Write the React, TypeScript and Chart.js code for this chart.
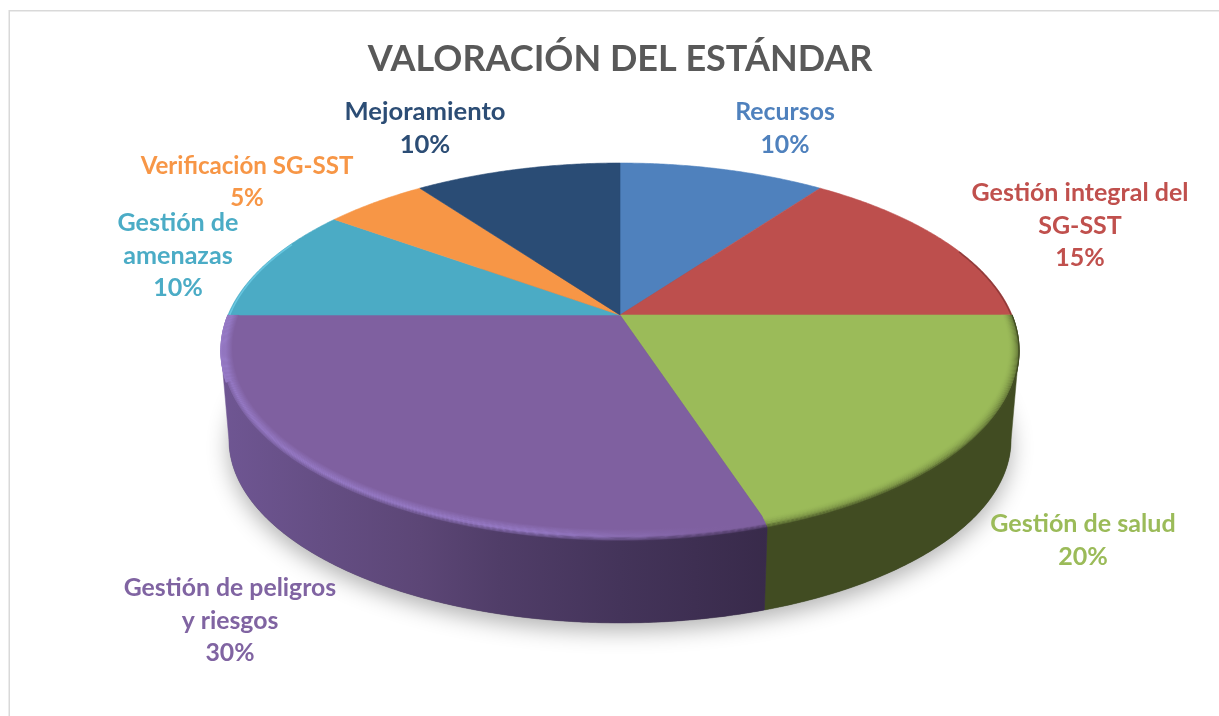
import React, { useEffect, useRef } from "react";
import { Chart, registerables } from "chart.js";

Chart.register(...registerables);

const categories = [
  "Recursos",
  "Gestión integral del SG-SST",
  "Gestión de salud",
  "Gestión de peligros y riesgos",
  "Gestión de amenazas",
  "Verificación SG-SST",
  "Mejoramiento",
];
const values = [10, 15, 20, 30, 10, 5, 10];
const labelLines = [
  ["Recursos"],
  ["Gestión integral del", "SG-SST"],
  ["Gestión de salud"],
  ["Gestión de peligros", "y riesgos"],
  ["Gestión de", "amenazas"],
  ["Verificación SG-SST"],
  ["Mejoramiento"],
];
const sliceColors = ["#4f81bd", "#bd4f4d", "#9bbb59", "#7f60a0", "#4babc5", "#f79646", "#2a4c75"];
const labelColors = ["#4f81bd", "#c0504d", "#9bbb59", "#8064a2", "#4bacc6", "#f79646", "#2c4d75"];
const labelCenters = [
  [785, 112],
  [1080, 193],
  [1083, 524],
  [230, 588],
  [178, 223],
  [247, 166],
  [425, 112],
];
const labelFontSizes = [24.8, 25, 25.1, 24.8, 25.1, 24.1, 25.6];

const FONT = "Lato, 'Open Sans', sans-serif";
const CX = 620, CY = 315, AX = 392, BY = 180.4, K = 0.187;
const DEPTH = 90.5, BOTTOM_SCALE = 0.98;
const deg = Math.PI / 180;
const WALL_FROM = 10.8 * deg, WALL_TO = 169.2 * deg;
const RIM_DROP = 4.5;

type RGB = [number, number, number];
const mix = (a: RGB, b: RGB, t: number): RGB => [0, 1, 2].map((i) => a[i] + (b[i] - a[i]) * t) as RGB;
const css = (c: RGB) => `rgb(${c.map((v) => Math.round(v)).join(",")})`;

function project(a: number, r = 1, bottom = false, drop = 0): [number, number] {
  const s = bottom ? BOTTOM_SCALE : 1;
  const w = 1 - K * r * Math.sin(a);
  return [
    CX + (AX * s * r * Math.cos(a)) / w,
    CY + (bottom ? DEPTH : 0) + (BY * s * r * Math.sin(a)) / w + drop * Math.max(0, Math.sin(a)),
  ];
}

function arcPts(a0: number, a1: number, r = 1, bottom = false, drop = 0) {
  const n = Math.max(2, Math.ceil(Math.abs(a1 - a0) / (0.5 * deg)));
  const pts: [number, number][] = [];
  for (let i = 0; i <= n; i++) pts.push(project(a0 + ((a1 - a0) * i) / n, r, bottom, drop));
  return pts;
}

function trace(ctx: CanvasRenderingContext2D, pts: [number, number][], move = true) {
  pts.forEach(([x, y], i) => (i === 0 && move ? ctx.moveTo(x, y) : ctx.lineTo(x, y)));
}

const purpleWallStops: [number, RGB][] = [
  [220, [111, 86, 147]],
  [320, [101, 78, 132]],
  [420, [92, 70, 118]],
  [500, [80, 61, 104]],
  [620, [68, 52, 90]],
  [770, [56, 42, 74]],
];
function purpleWall(x: number): RGB {
  for (let i = 1; i < purpleWallStops.length; i++) {
    const [x0, c0] = purpleWallStops[i - 1];
    const [x1, c1] = purpleWallStops[i];
    if (x <= x1) return mix(c0, c1, Math.max(0, (x - x0) / (x1 - x0)));
  }
  return purpleWallStops[purpleWallStops.length - 1][1];
}
const purpleTop: RGB = [127, 96, 160];
const purpleLight: RGB = [150, 122, 198];
function purpleHi(x: number): RGB {
  return mix(purpleLight, purpleTop, Math.min(1, Math.max(0, (x - 540) / 170)));
}
function purpleBevel(x: number, t: number): RGB {
  const hi = purpleHi(x);
  if (t < 0.55) return mix(purpleTop, hi, t / 0.55);
  return mix(hi, purpleWall(x), (t - 0.55) / 0.45);
}
const greenTop: RGB = [155, 187, 89];
const greenWall: RGB = [65, 76, 34];
const greenBevel = (_x: number, t: number): RGB => mix(greenTop, greenWall, t * t);

function bevelBand(
  ctx: CanvasRenderingContext2D,
  a0: number,
  a1: number,
  r: number,
  t: number,
  drop: number,
  color: (x: number, t: number) => RGB,
) {
  const grad = ctx.createLinearGradient(210, 0, 1030, 0);
  for (let i = 0; i <= 20; i++) grad.addColorStop(i / 20, css(color(210 + 41 * i, t)));
  ctx.beginPath();
  trace(ctx, arcPts(a0, a1, r, false, drop));
  ctx.strokeStyle = grad;
  ctx.lineWidth = 1.1;
  ctx.stroke();
}

const pie3d = {
  id: "pie3d",
  beforeDraw(chart: any) {
    const { ctx } = chart;
    ctx.save();
    ctx.strokeStyle = "#d9d9d9";
    ctx.lineWidth = 1.5;
    ctx.beginPath();
    ctx.moveTo(9.25, 716);
    ctx.lineTo(9.25, 10.75);
    ctx.lineTo(1219, 10.75);
    ctx.stroke();
    ctx.restore();
  },
  beforeDatasetsDraw(chart: any) {
    const ctx: CanvasRenderingContext2D = chart.ctx;
    const arcs: any[] = chart.getDatasetMeta(0).data;
    ctx.save();

    // soft shadow under the disc
    ctx.save();
    ctx.shadowColor = "rgba(0,0,0,0.3)";
    ctx.shadowBlur = 22;
    ctx.shadowOffsetY = 8;
    ctx.fillStyle = "#555";
    ctx.beginPath();
    trace(ctx, arcPts(0, Math.PI * 2, 1, true));
    ctx.closePath();
    ctx.fill();
    ctx.restore();

    // side walls: only what faces the viewer
    arcs.forEach((el, i) => {
      const a0 = Math.max(el.startAngle, WALL_FROM);
      const a1 = Math.min(el.endAngle, WALL_TO);
      if (a1 <= a0) return;
      ctx.beginPath();
      trace(ctx, arcPts(a0, a1));
      trace(ctx, arcPts(a1, a0, 1, true), false);
      ctx.closePath();
      let fill: any = css(greenWall);
      if (i === 3) {
        const g = ctx.createLinearGradient(220, 0, 770, 0);
        purpleWallStops.forEach(([x, c]) => g.addColorStop((x - 220) / 550, css(c)));
        fill = g;
      }
      ctx.fillStyle = fill;
      ctx.strokeStyle = fill;
      ctx.lineWidth = 0.5;
      ctx.fill();
      ctx.stroke();
    });

    // top faces
    arcs.forEach((el, i) => {
      ctx.beginPath();
      const c = project(0, 0);
      ctx.moveTo(c[0], c[1]);
      trace(ctx, arcPts(el.startAngle, el.endAngle), false);
      ctx.closePath();
      ctx.fillStyle = sliceColors[i];
      ctx.strokeStyle = sliceColors[i];
      ctx.lineWidth = 0.6;
      ctx.fill();
      ctx.stroke();
    });

    // rounded rim
    const N = 14;
    const green = arcs[2];
    const purple = arcs[3];
    for (let b = 0; b <= N; b++) {
      const t = b / N;
      const r = Math.min(0.972 + 0.032 * t, 1);
      const drop = RIM_DROP * t;
      bevelBand(ctx, green.startAngle, green.endAngle, r, t, drop, greenBevel);
      bevelBand(ctx, purple.startAngle, 160 * deg, r, t, drop, purpleBevel);
      bevelBand(ctx, 160 * deg, purple.endAngle, r, Math.min(t, 0.55), drop, purpleBevel);
    }
    // thin edges on the back slices that reach the sides
    ctx.lineWidth = 1.6;
    ctx.strokeStyle = "rgba(110,40,40,0.55)";
    ctx.beginPath();
    trace(ctx, arcPts(-22 * deg, arcs[1].endAngle, 0.998));
    ctx.stroke();
    ctx.strokeStyle = "rgba(110,205,230,0.8)";
    ctx.beginPath();
    trace(ctx, arcPts(arcs[4].startAngle, 205 * deg, 0.996));
    ctx.stroke();

    // data labels
    ctx.textAlign = "center";
    ctx.textBaseline = "middle";
    arcs.forEach((_el, i) => {
      const [x, y] = labelCenters[i];
      const lines = [...labelLines[i], `${values[i]}%`];
      ctx.font = `bold ${labelFontSizes[i]}px ${FONT}`;
      ctx.fillStyle = labelColors[i];
      lines.forEach((line, j) => ctx.fillText(line, x, y + j * 32.6));
    });
    ctx.restore();
    return false;
  },
};

export default function App() {
  const ref = useRef<HTMLCanvasElement>(null);
  useEffect(() => {
    const chart = new Chart(ref.current!, {
      type: "pie",
      data: {
        labels: categories,
        datasets: [{ data: values, backgroundColor: sliceColors, borderWidth: 0 }],
      },
      options: {
        animation: false,
        responsive: false,
        layout: { padding: { left: 21, top: 38 } },
        plugins: {
          legend: { display: false },
          tooltip: { enabled: false },
          title: {
            display: true,
            text: "VALORACIÓN DEL ESTÁNDAR",
            color: "#595959",
            font: { family: FONT, size: 36, weight: "bold" },
            padding: 0,
          },
        },
      },
      plugins: [pie3d],
    } as any);
    return () => chart.destroy();
  }, []);
  return (
    <div style={{ position: "absolute", left: 0, top: 0, width: 1219, height: 716, background: "#fff" }}>
      <canvas ref={ref} width={1219} height={716} style={{ display: "block" }} />
    </div>
  );
}
